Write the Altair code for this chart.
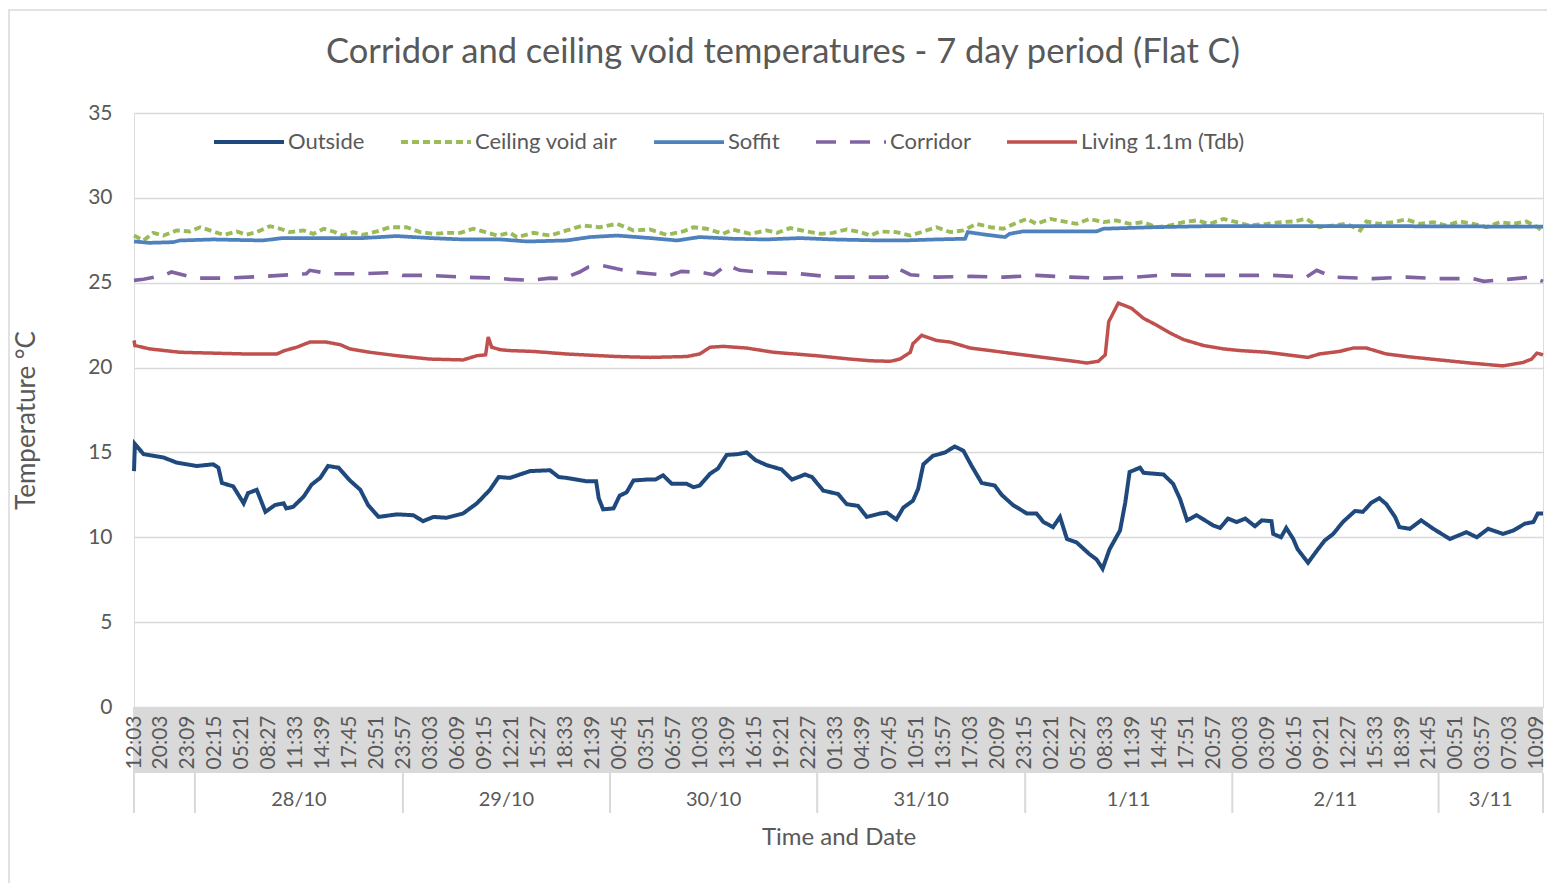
import json
import altair as alt
import pandas as pd

TITLE = "Corridor and ceiling void temperatures - 7 day period (Flat C)"
SERIES = ["Outside", "Ceiling void air", "Soffit", "Corridor", "Living 1.1m (Tdb)"]
COLORS = ["#1F497D", "#9BBB59", "#4F81BD", "#8064A2", "#C0504D"]
DASHES = [[1, 0], [7, 4], [1, 0], [20, 14], [1, 0]]
WIDTHS = [4, 3.5, 3.5, 5, 4.5]

# x positions are reading numbers (one tick label every 31 readings)
TIME_LABELS = ["12:03", "20:03", "23:09", "02:15", "05:21", "08:27", "11:33", "14:39", "17:45",
               "20:51", "23:57", "03:03", "06:09", "09:15", "12:21", "15:27", "18:33", "21:39",
               "00:45", "03:51", "06:57", "10:03", "13:09", "16:15", "19:21", "22:27", "01:33",
               "04:39", "07:45", "10:51", "13:57", "17:03", "20:09", "23:15", "02:21", "05:27",
               "08:33", "11:39", "14:45", "17:51", "20:57", "00:03", "03:09", "06:15", "09:21",
               "12:27", "15:33", "18:39", "21:45", "00:51", "03:57", "07:03", "10:09"]
LABEL_STEP = 31
N_END = 1619
DAY_NAMES = ["28/10", "29/10", "30/10", "31/10", "1/11", "2/11", "3/11"]
DAY_BOUNDS = [0, 70, 309, 547, 785, 1024, 1262, 1499, 1619]

OUTSIDE = [(0, 13.9), (1, 15.5), (11, 14.9), (34, 14.7), (49, 14.4), (72, 14.2), (91, 14.3), (97, 14.1),
           (101, 13.2), (114, 13.0), (126, 12.0), (131, 12.6), (141, 12.8), (151, 11.5), (162, 11.9),
           (172, 12.0), (175, 11.7), (183, 11.8), (195, 12.4), (204, 13.1), (214, 13.5), (223, 14.2),
           (235, 14.1), (248, 13.35), (260, 12.8), (269, 11.9), (281, 11.2), (302, 11.35), (321, 11.3),
           (332, 10.95), (344, 11.2), (359, 11.15), (378, 11.4), (394, 12.0), (409, 12.8), (419, 13.55),
           (432, 13.5), (455, 13.9), (478, 13.95), (488, 13.55), (497, 13.5), (520, 13.3), (531, 13.3),
           (534, 12.3), (539, 11.65), (551, 11.7), (558, 12.45), (566, 12.65), (574, 13.35), (589, 13.4),
           (599, 13.4), (608, 13.65), (618, 13.15), (635, 13.15), (643, 12.95), (650, 13.05), (662, 13.75),
           (671, 14.05), (681, 14.85), (694, 14.9), (704, 15.0), (714, 14.55), (727, 14.25), (744, 14.0),
           (756, 13.4), (771, 13.7), (779, 13.55), (792, 12.75), (809, 12.55), (819, 11.95), (832, 11.85),
           (842, 11.2), (857, 11.4), (865, 11.45), (876, 11.05), (884, 11.75), (895, 12.15), (901, 12.85),
           (907, 14.3), (918, 14.8), (932, 15.0), (943, 15.35), (953, 15.1), (962, 14.25), (974, 13.2),
           (989, 13.05), (997, 12.5), (1010, 11.9), (1026, 11.4), (1037, 11.4), (1045, 10.9), (1056, 10.6),
           (1064, 11.2), (1072, 9.9), (1083, 9.7), (1098, 9.0), (1106, 8.7), (1113, 8.15), (1121, 9.3),
           (1133, 10.4), (1139, 12.05), (1144, 13.85), (1156, 14.1), (1160, 13.8), (1183, 13.7),
           (1194, 13.15), (1202, 12.25), (1210, 11.0), (1221, 11.3), (1240, 10.7), (1248, 10.55),
           (1257, 11.1), (1267, 10.9), (1277, 11.1), (1288, 10.65), (1296, 11.0), (1307, 10.95),
           (1309, 10.2), (1318, 10.0), (1324, 10.55), (1332, 9.9), (1337, 9.3), (1349, 8.5), (1359, 9.2),
           (1368, 9.8), (1378, 10.2), (1389, 10.9), (1403, 11.55), (1412, 11.5), (1422, 12.05),
           (1431, 12.3), (1439, 11.95), (1449, 11.2), (1454, 10.6), (1466, 10.5), (1479, 11.0),
           (1493, 10.5), (1512, 9.9), (1531, 10.3), (1543, 10.0), (1556, 10.5), (1573, 10.2),
           (1585, 10.4), (1598, 10.8), (1608, 10.9), (1613, 11.4), (1619, 11.4)]

CEILING_VOID = [(0, 27.78), (11, 27.49), (22, 27.94), (34, 27.78), (49, 28.08), (64, 28.02), (76, 28.27),
                (91, 28.02), (103, 27.82), (118, 28.02), (129, 27.82), (141, 27.98), (156, 28.33),
                (168, 28.18), (179, 27.98), (195, 28.08), (206, 27.88), (218, 28.18), (229, 28.02),
                (240, 27.78), (252, 27.98), (263, 27.82), (279, 28.02), (294, 28.27), (313, 28.27),
                (329, 27.98), (344, 27.88), (359, 27.94), (375, 27.94), (390, 28.18), (401, 28.02),
                (417, 27.78), (432, 27.94), (440, 27.69), (459, 27.94), (478, 27.78), (497, 28.08),
                (516, 28.37), (535, 28.27), (555, 28.47), (574, 28.08), (593, 28.14), (612, 27.82),
                (631, 28.02), (643, 28.27), (658, 28.18), (677, 27.88), (688, 28.14), (708, 27.88),
                (727, 28.08), (739, 27.94), (754, 28.22), (773, 28.02), (789, 27.88), (803, 27.94),
                (819, 28.14), (835, 27.98), (846, 27.78), (857, 28.02), (876, 27.98), (892, 27.78),
                (907, 28.02), (922, 28.27), (938, 27.98), (953, 28.08), (968, 28.47), (984, 28.27),
                (999, 28.18), (1014, 28.53), (1026, 28.76), (1037, 28.47), (1053, 28.76), (1068, 28.61),
                (1083, 28.47), (1098, 28.76), (1114, 28.57), (1129, 28.67), (1144, 28.47), (1160, 28.57),
                (1175, 28.27), (1190, 28.37), (1206, 28.57), (1221, 28.67), (1236, 28.47), (1252, 28.76),
                (1267, 28.57), (1282, 28.37), (1302, 28.47), (1318, 28.57), (1332, 28.61), (1347, 28.76),
                (1362, 28.27), (1378, 28.37), (1393, 28.47), (1409, 28.08), (1416, 28.61), (1431, 28.47),
                (1447, 28.57), (1462, 28.73), (1477, 28.47), (1493, 28.57), (1508, 28.37), (1523, 28.61),
                (1539, 28.47), (1554, 28.27), (1569, 28.57), (1585, 28.47), (1600, 28.61), (1613, 28.27),
                (1619, 27.98)]

SOFFIT = [(0, 27.43), (18, 27.35), (45, 27.39), (53, 27.49), (91, 27.55), (148, 27.49), (171, 27.63),
          (225, 27.63), (263, 27.63), (302, 27.75), (340, 27.63), (378, 27.55), (421, 27.55), (452, 27.43),
          (497, 27.49), (524, 27.69), (555, 27.78), (593, 27.63), (624, 27.49), (650, 27.69), (688, 27.59),
          (727, 27.55), (765, 27.63), (803, 27.55), (857, 27.49), (884, 27.49), (922, 27.55), (955, 27.59),
          (958, 27.98), (980, 27.82), (1001, 27.69), (1006, 27.88), (1021, 28.02), (1106, 28.02),
          (1114, 28.18), (1171, 28.27), (1229, 28.33), (1282, 28.33), (1454, 28.33), (1619, 28.3)]

CORRIDOR = [(0, 25.14), (11, 25.2), (34, 25.43), (43, 25.63), (72, 25.27), (107, 25.27), (149, 25.37),
            (198, 25.53), (202, 25.73), (225, 25.53), (263, 25.53), (294, 25.59), (309, 25.43), (340, 25.43),
            (378, 25.33), (417, 25.27), (432, 25.2), (455, 25.14), (478, 25.27), (493, 25.24), (512, 25.63),
            (522, 25.92), (539, 26.0), (555, 25.82), (574, 25.63), (593, 25.53), (616, 25.43), (629, 25.67),
            (654, 25.59), (666, 25.47), (681, 26.05), (696, 25.73), (727, 25.59), (765, 25.53), (803, 25.33),
            (857, 25.33), (865, 25.33), (880, 25.78), (892, 25.47), (922, 25.33), (961, 25.37), (999, 25.33),
            (1037, 25.43), (1076, 25.33), (1114, 25.27), (1152, 25.33), (1186, 25.47), (1229, 25.43),
            (1282, 25.43), (1309, 25.43), (1347, 25.33), (1359, 25.73), (1378, 25.33), (1424, 25.24),
            (1462, 25.33), (1500, 25.24), (1539, 25.24), (1551, 25.08), (1578, 25.2), (1605, 25.33),
            (1619, 25.08)]

LIVING = [(0, 21.6), (1, 21.3), (18, 21.1), (53, 20.9), (91, 20.85), (129, 20.8), (164, 20.8), (173, 21.0),
          (187, 21.2), (202, 21.5), (221, 21.5), (237, 21.35), (248, 21.1), (271, 20.9), (302, 20.7),
          (340, 20.5), (378, 20.45), (394, 20.7), (404, 20.75), (407, 21.8), (411, 21.2), (421, 21.05),
          (432, 21.0), (459, 20.95), (497, 20.8), (555, 20.65), (593, 20.6), (635, 20.65), (650, 20.8),
          (662, 21.2), (677, 21.25), (704, 21.15), (735, 20.9), (784, 20.7), (823, 20.5), (846, 20.4),
          (869, 20.37), (880, 20.5), (892, 20.9), (895, 21.4), (905, 21.9), (922, 21.6), (938, 21.5),
          (961, 21.15), (999, 20.9), (1037, 20.65), (1076, 20.4), (1095, 20.27), (1108, 20.37),
          (1116, 20.75), (1120, 22.7), (1131, 23.8), (1146, 23.5), (1160, 22.9), (1175, 22.5),
          (1190, 22.05), (1206, 21.65), (1229, 21.3), (1252, 21.1), (1271, 21.0), (1302, 20.9),
          (1325, 20.75), (1349, 20.6), (1362, 20.8), (1385, 20.95), (1401, 21.15), (1416, 21.15),
          (1439, 20.8), (1462, 20.65), (1500, 20.45), (1539, 20.25), (1573, 20.1), (1596, 20.3),
          (1606, 20.5), (1612, 20.85), (1619, 20.75)]

rows = []
for name, pts in zip(SERIES, [OUTSIDE, CEILING_VOID, SOFFIT, CORRIDOR, LIVING]):
    for i, t in pts:
        rows.append({"series": name, "i": i, "t": t})
df = pd.DataFrame(rows)

W, H = 1409, 594
GREY = "#595959"
FONT = "Lato"

x_scale = alt.Scale(domain=[0, N_END], nice=False, zero=False)
y_scale = alt.Scale(domain=[0, 35], nice=False)

label_expr = json.dumps(TIME_LABELS) + f"[round(datum.value/{LABEL_STEP})]"
x_axis = alt.Axis(values=[LABEL_STEP * k for k in range(len(TIME_LABELS))], labelExpr=label_expr,
                  labelAngle=270, labelFont=FONT, labelFontSize=21, labelColor=GREY, labelPadding=8,
                  ticks=False, domain=False, grid=False, labelOverlap=False, labelFlush=False,
                  labelBound=False, title="Time and Date", titleFont=FONT, titleFontSize=24,
                  titleColor=GREY, titleFontWeight="normal", titleY=137, titleBaseline="alphabetic",
                  zindex=1)
y_axis = alt.Axis(values=list(range(0, 36, 5)), grid=True, gridColor="#d9d9d9", gridWidth=1.5,
                  domain=False, ticks=False, labelFont=FONT, labelFontSize=21, labelColor=GREY,
                  labelPadding=22, title="Temperature  °C", titleFont=FONT, titleFontSize=26,
                  titleColor=GREY, titleFontWeight="normal", titleX=-100, titleY=307,
                  titleBaseline="alphabetic")

x_enc = alt.X("i:Q", scale=x_scale, axis=x_axis)
y_enc = alt.Y("t:Q", scale=y_scale, axis=y_axis)

legend = alt.Legend(orient="none", legendX=78, legendY=-8, direction="horizontal", title=None,
                    symbolType="stroke", symbolSize=4900, symbolStrokeWidth=4.5, labelFont=FONT,
                    labelFontSize=22, labelColor=GREY, columnPadding=28, labelOffset=2, labelLimit=0)

one = pd.DataFrame({"k": [0]})

border = alt.Chart(one).mark_rect(filled=False, stroke="#d9d9d9", strokeWidth=1.5).encode(
    x=alt.value(-125), x2=alt.value(1440), y=alt.value(-103), y2=alt.value(790))

band = alt.Chart(one).mark_rect(color="#d9d9d9").encode(
    x=alt.value(-1), x2=alt.value(W), y=alt.value(H), y2=alt.value(H + 66))

seps = alt.Chart(pd.DataFrame({"i": DAY_BOUNDS})).mark_rule(color="#d9d9d9", strokeWidth=2).encode(
    x=x_enc, y=alt.value(H + 66), y2=alt.value(H + 106))

mids = [(DAY_BOUNDS[k] + DAY_BOUNDS[k + 1]) / 2 for k in range(1, len(DAY_BOUNDS) - 1)]
days = alt.Chart(pd.DataFrame({"i": mids, "day": DAY_NAMES})).mark_text(
    font=FONT, fontSize=20, color=GREY, baseline="middle").encode(
    x=x_enc, y=alt.value(H + 93), text="day:N")

title = alt.Chart(pd.DataFrame({"title": [TITLE]})).mark_text(
    font=FONT, fontSize=34.5, color=GREY, baseline="middle").encode(
    x=alt.value(649), y=alt.value(-60), text="title:N")

lines = alt.Chart(df).mark_line().encode(
    x=x_enc, y=y_enc,
    color=alt.Color("series:N", scale=alt.Scale(domain=SERIES, range=COLORS), legend=legend),
    strokeDash=alt.StrokeDash("series:N", scale=alt.Scale(domain=SERIES, range=DASHES), legend=legend),
    strokeWidth=alt.StrokeWidth("series:N", scale=alt.Scale(domain=SERIES, range=WIDTHS), legend=None),
)

chart = alt.layer(border, band, seps, days, title, lines).properties(
    width=W, height=H,
    padding={"left": 126, "top": 105, "right": 4, "bottom": 176},
    autosize=alt.AutoSizeParams(type="none"),
).configure_view(stroke=None).configure(background="white")

chart.save("out.html", embed_options={"renderer": "svg", "actions": False})
